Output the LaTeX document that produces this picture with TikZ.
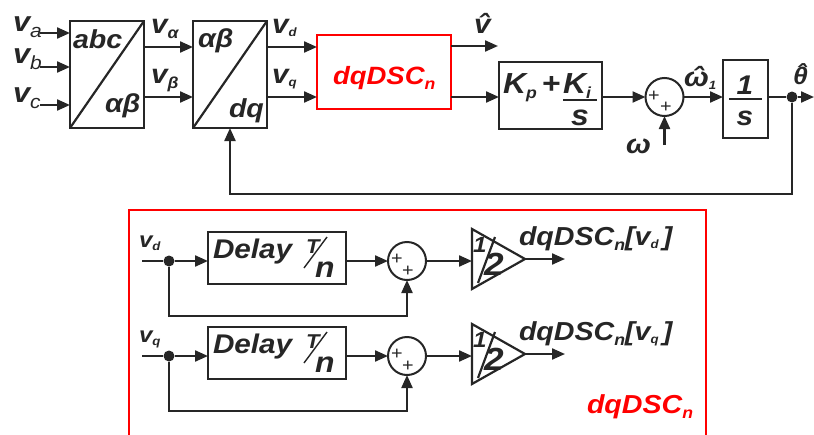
\documentclass[tikz,border=0pt]{standalone}
\usepackage{fontspec}
\setmainfont[FakeStretch=1.1]{Liberation Sans}
\usetikzlibrary{arrows.meta,calc}
\definecolor{ink}{HTML}{262626}
\definecolor{rd}{HTML}{FF0000}
\newcommand\fs[1]{\fontsize{#1}{#1}\selectfont}
\newcommand\hatt[3]{\ooalign{#3\cr\hidewidth\kern#1\raisebox{#2}{\char"02C6}\hidewidth\cr}}
\newcommand\sbs[1]{\raisebox{-5pt}{\fs{16}#1}}
\newcommand\sbr[1]{\raisebox{-6pt}{\fs{19}\mdseries #1}}
\newcommand\sbt[1]{\raisebox{-3pt}{\fs{12}#1}}
\tikzset{
  lbl/.style={text=ink, font=\fs{25}\bfseries\itshape, inner sep=0, outer sep=0},
  blk/.style={draw=ink, line width=2.2pt, inner sep=0, outer sep=0},
  wire/.style={draw=ink, line width=2.2pt},
  arr/.style={wire, -{Triangle[length=13pt,width=11pt]}},
  jdot/.style={circle, fill=ink, minimum size=11pt, inner sep=0},
  summ/.style={circle, draw=ink, line width=2pt, minimum size=38pt, inner sep=0, outer sep=0},
  pl/.style={text=ink, font=\fs{18}, inner sep=0},
}
\begin{document}
\begin{tikzpicture}[x=1pt,y=-1pt]
\useasboundingbox (0,0) rectangle (814,434);
% ---------- top row ----------
\node[blk, minimum width=74pt, minimum height=107pt] (b1) at (107,74.5) {};
\draw[wire] (b1.south west) -- (b1.north east);
\node[lbl, font=\fs{26}\bfseries\itshape, anchor=base west] (t1a) at (73,48) {abc};
\node[lbl, font=\fs{26}\bfseries\itshape, anchor=base west] (t1b) at (105,112) {αβ};
\node[blk, minimum width=74pt, minimum height=107pt] (b2) at (230,74.5) {};
\draw[wire] (b2.south west) -- (b2.north east);
\node[lbl, font=\fs{26}\bfseries\itshape, anchor=base west] (t2a) at (198,47) {αβ};
\node[lbl, font=\fs{26}\bfseries\itshape, anchor=base west] (t2b) at (229,117) {dq};
% inputs
\coordinate (ia) at (40,33);
\coordinate (ib) at (40,67);
\coordinate (ic) at (40,105);
\node[lbl, font=\fs{28}\bfseries\itshape, anchor=base west] (la) at (13,31) {v\sbr{a}};
\node[lbl, font=\fs{28}\bfseries\itshape, anchor=base west] (lb) at (13,63) {v\sbr{b}};
\node[lbl, font=\fs{28}\bfseries\itshape, anchor=base west] (lc) at (13,102) {v\sbr{c}};
\draw[arr] (ia) -- (ia -| b1.west);
\draw[arr] (ib) -- (ib -| b1.west);
\draw[arr] (ic) -- (ic -| b1.west);
% alpha beta
\coordinate (pa) at (144,47);
\coordinate (pb) at (144,97);
\node[lbl, font=\fs{27}\bfseries\itshape, anchor=base west] (lal) at (151,33) {v\sbs{α}};
\node[lbl, font=\fs{27}\bfseries\itshape, anchor=base west] (lbe) at (151,83) {v\sbs{β}};
\draw[arr] (pa -| b1.east) -- (pa -| b2.west);
\draw[arr] (pb -| b1.east) -- (pb -| b2.west);
% red dqDSC block
\node[blk, draw=rd, line width=2.4pt, minimum width=134pt, minimum height=74pt] (dsc) at (384,72) {};
\node[lbl, text=rd, anchor=base west] (dsct) at (333,84) {dqDSC\sbs{n}};
\coordinate (pd) at (267,47);
\coordinate (pq) at (267,97);
\node[lbl, font=\fs{27}\bfseries\itshape, anchor=base west] (lvd) at (272,33) {v\sbt{d}};
\node[lbl, font=\fs{27}\bfseries\itshape, anchor=base west] (lvq) at (272,83) {v\sbt{q}};
\draw[arr] (pd -| b2.east) -- (pd -| dsc.west);
\draw[arr] (pq -| b2.east) -- (pq -| dsc.west);
\coordinate (vh) at (498,46);
\draw[arr] (vh -| dsc.east) -- (vh);
\node[lbl, font=\fs{27}\bfseries\itshape, anchor=base west] (lvh) at (474,33) {\hatt{2pt}{0pt}{v}};
% PI block
\node[blk, minimum width=103pt, minimum height=67pt] (pi) at (550.5,95.5) {};
\node[lbl, font=\fs{29}\bfseries\itshape, anchor=base west] (kp) at (503,93) {K\sbs{p}\,+};
\node[lbl, font=\fs{29}\bfseries\itshape, anchor=base west] (ki) at (563,93) {K\sbs{i}};
\node[lbl, font=\fs{29}\bfseries\itshape, anchor=base] (ks) at (580,125) {s};
\draw[wire] (563,100) -- (597,100);
\draw[arr] (pq -| dsc.east) -- (pq -| pi.west);
% summing junction
\node[summ] (s0) at (664.5,97) {};
\node[pl] at (654,96) {+};
\node[pl] at (666,107) {+};
\draw[arr] (pi.east |- s0) -- (s0.west);
\coordinate (om) at (664.5,145);
\draw[arr] (om) -- (s0.south);
\node[lbl, font=\fs{27}\bfseries\itshape, anchor=base west] (lom) at (626,153) {ω};
% integrator
\node[blk, minimum width=45pt, minimum height=78pt] (ig) at (745.5,99) {};
\node[lbl, font=\fs{27}\bfseries\itshape, anchor=base] (ig1) at (745,94) {1};
\node[lbl, font=\fs{27}\bfseries\itshape, anchor=base] (igs) at (745,125) {s};
\draw[wire] (729,99) -- (762,99);
\draw[arr] (s0.east) -- (s0.east -| ig.west);
\node[lbl, font=\fs{27}\bfseries\itshape, anchor=base west] (lw1) at (684,86) {\hatt{3pt}{0pt}{ω}\sbt{1}};
\node[jdot] (dt) at (792,97) {};
\draw[wire] (ig.east |- dt) -- (dt);
\coordinate (th) at (814,97);
\draw[arr] (dt) -- (th);
\node[lbl, font=\fs{24}\bfseries\itshape, anchor=base west] (lth) at (793,84) {\hatt{2pt}{3pt}{θ}};
\coordinate (fb) at (792,194);
\draw[arr] (dt) -- (fb) -| (b2.south);
% ---------- dqDSC detail ----------
\draw[draw=rd, line width=2.6pt] (129,210) rectangle (706,450);
\node[lbl, text=rd, font=\fs{26}\bfseries\itshape, anchor=base west] (rdl) at (587,413) {dqDSC\sbs{n}};
\foreach \r/\dy/\s in {1/0/d,2/95/q}{
  \coordinate (in\r) at (142,261+\dy);
  \node[jdot] (j\r) at (169,261+\dy) {};
  \node[lbl, font=\fs{22}\bfseries\itshape, anchor=base west] (lv\r) at (139,247+\dy) {v\sbt{\s}};
  \node[blk, minimum width=138pt, minimum height=52pt] (dl\r) at (277,258+\dy) {};
  \node[lbl, font=\fs{27}\bfseries\itshape, anchor=base west] (dlt\r) at (213,258+\dy) {Delay};
  \node[lbl, font=\fs{20}\bfseries\itshape, anchor=base west] (tt\r) at (306,253+\dy) {T};
  \node[lbl, font=\fs{29}\bfseries\itshape, anchor=base west] (tn\r) at (315,277+\dy) {n};
  \draw[draw=ink, line width=1.4pt] (304,268+\dy) -- (327,237+\dy);
  \node[summ] (sm\r) at (407,261+\dy) {};
  \node[pl] at (397,259+\dy) {+};
  \node[pl] at (408,271+\dy) {+};
  \coordinate (tl\r) at (472,261+\dy);
  \coordinate (tr\r) at (525,259+\dy);
  \draw[draw=ink, line width=2.2pt, line join=miter] (472,229+\dy) -- (tr\r) -- (472,289+\dy) -- cycle;
  \node[lbl, font=\fs{22}\bfseries\itshape, anchor=base west] (g1\r) at (473,252+\dy) {1};
  \node[lbl, font=\fs{32}\bfseries\itshape, anchor=base west] (g2\r) at (484,275+\dy) {2};
  \draw[draw=ink, line width=2.2pt] (478,283+\dy) -- (495,237+\dy);
  \coordinate (out\r) at (565,259+\dy);
  \node[lbl, font=\fs{26}\bfseries\itshape, anchor=base west] (ol\r) at (519,245+\dy) {dqDSC\sbs{n}[v\sbt{\s}\,]};
  \coordinate (fb\r) at (169,316+\dy);
  \draw[wire] (in\r) -- (j\r);
  \draw[arr] (j\r) -- (j\r -| dl\r.west);
  \draw[arr] (dl\r.east |- sm\r) -- (sm\r.west);
  \draw[arr] (sm\r.east) -- (tl\r);
  \draw[arr] (tr\r) -- (out\r);
  \draw[arr] (j\r) -- (fb\r) -| (sm\r.south);
}
\end{tikzpicture}
\end{document}
